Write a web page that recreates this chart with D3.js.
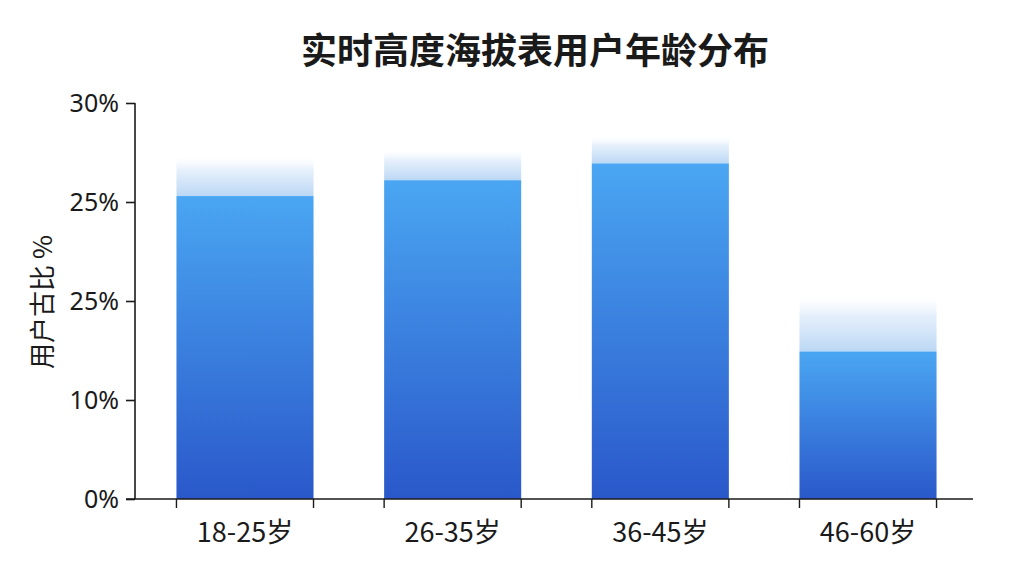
<!DOCTYPE html>
<html>
<head>
<meta charset="utf-8">
<script src="https://cdn.jsdelivr.net/npm/d3@7/dist/d3.min.js"></script>
<style>
  html, body { margin: 0; padding: 0; background: #fff; }
  svg text { font-family: 'Noto Sans CJK SC', 'Noto Sans', sans-serif; fill: #1a1a1a; }
</style>
</head>
<body>
<svg id="chart" width="1024" height="576"></svg>
<script>
const title = '实时高度海拔表用户年龄分布';
const yTitle = '用户古比 %';

const categories = ['18-25岁', '26-35岁', '36-45岁', '46-60岁'];
// bar heights, in axis units (one grid step = 10)
const values = [30.6, 32.2, 33.9, 14.9];
// top of the faded glow above each bar
const glowTops = [34.8, 35.4, 36.8, 20.8];

const tickValues = [0, 10, 20, 30, 40];
const tickLabels = ['0%', '10%', '25%', '25%', '30%'];

const W = 1024, H = 576;
const margin = { top: 103, right: 51, bottom: 77, left: 135 };

const svg = d3.select('#chart');

const x = d3.scaleBand()
  .domain(categories)
  .range([margin.left + 2, W - margin.right + 3])
  .paddingInner(0.34)
  .paddingOuter(0.19);

const y = d3.scaleLinear()
  .domain([0, 40])
  .range([H - margin.bottom, margin.top]);

const defs = svg.append('defs');

const barGrad = defs.append('linearGradient')
  .attr('id', 'barGrad')
  .attr('x1', 0).attr('y1', 0).attr('x2', 0).attr('y2', 1);
barGrad.append('stop').attr('offset', '0%').attr('stop-color', '#4aa6f2');
barGrad.append('stop').attr('offset', '100%').attr('stop-color', '#2a58ca');

const glowGrad = defs.append('linearGradient')
  .attr('id', 'glowGrad')
  .attr('x1', 0).attr('y1', 0).attr('x2', 0).attr('y2', 1);
glowGrad.append('stop').attr('offset', '0%').attr('stop-color', '#ffffff').attr('stop-opacity', 0);
glowGrad.append('stop').attr('offset', '35%').attr('stop-color', '#e8f1fc').attr('stop-opacity', 1);
glowGrad.append('stop').attr('offset', '100%').attr('stop-color', '#bcd8f5').attr('stop-opacity', 1);

// title
svg.append('text')
  .attr('x', 535)
  .attr('y', 64)
  .attr('text-anchor', 'middle')
  .attr('font-size', 36)
  .attr('font-weight', 'bold')
  .text(title);

// glow above bars
svg.append('g')
  .selectAll('rect')
  .data(categories)
  .join('rect')
  .attr('x', d => x(d))
  .attr('width', x.bandwidth())
  .attr('y', (d, i) => y(glowTops[i]))
  .attr('height', (d, i) => y(values[i]) - y(glowTops[i]))
  .attr('fill', 'url(#glowGrad)');

// bars
svg.append('g')
  .selectAll('rect')
  .data(categories)
  .join('rect')
  .attr('x', d => x(d))
  .attr('width', x.bandwidth())
  .attr('y', (d, i) => y(values[i]))
  .attr('height', (d, i) => y(0) - y(values[i]))
  .attr('fill', 'url(#barGrad)');

// y axis
const yAxis = svg.append('g')
  .attr('transform', `translate(${margin.left},0)`)
  .call(d3.axisLeft(y)
    .tickValues(tickValues)
    .tickFormat((d, i) => tickLabels[i])
    .tickSize(9)
    .tickPadding(7));
yAxis.select('.domain').attr('stroke', '#1a1a1a').attr('stroke-width', 1.6).attr('d', `M0,${y(40)}V${y(0)}`);
yAxis.selectAll('.tick line').attr('stroke', '#1a1a1a').attr('stroke-width', 1.6);
yAxis.selectAll('.tick text')
  .attr('font-size', 25)
  .attr('fill', '#1a1a1a')
  .style('font-family', "'Noto Sans', sans-serif");

// x axis line
svg.append('line')
  .attr('x1', margin.left - 9)
  .attr('x2', W - margin.right)
  .attr('y1', y(0))
  .attr('y2', y(0))
  .attr('stroke', '#1a1a1a')
  .attr('stroke-width', 1.6);

// ticks on both edges of each bar
const edges = categories.flatMap(d => [x(d), x(d) + x.bandwidth()]);
svg.append('g')
  .selectAll('line')
  .data(edges)
  .join('line')
  .attr('x1', d => d).attr('x2', d => d)
  .attr('y1', y(0)).attr('y2', y(0) + 9)
  .attr('stroke', '#1a1a1a')
  .attr('stroke-width', 1.4);

// x labels
svg.append('g')
  .selectAll('text')
  .data(categories)
  .join('text')
  .attr('x', d => x(d) + x.bandwidth() / 2)
  .attr('y', 542)
  .attr('text-anchor', 'middle')
  .attr('font-size', 27)
  .text(d => d);

// y title
svg.append('text')
  .attr('transform', 'translate(52,302) rotate(-90)')
  .attr('text-anchor', 'middle')
  .attr('font-size', 26)
  .text(yTitle);
</script>
</body>
</html>
